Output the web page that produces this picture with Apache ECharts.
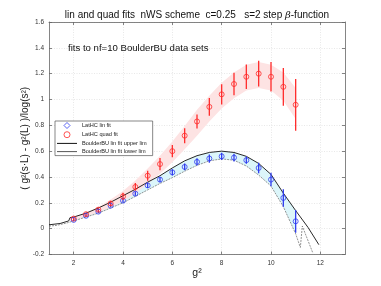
<!DOCTYPE html>
<html><head><meta charset="utf-8">
<script src="https://cdn.jsdelivr.net/npm/echarts@6/dist/echarts.min.js"></script>
<style>html,body{margin:0;padding:0;background:#fff}#c{width:381px;height:286px}</style>
</head><body><div id="c"></div>
<script>
// ---- data ----
const g2 = [2.0,2.5,3.0,3.5,4.0,4.5,5.0,5.5,6.0,6.5,7.0,7.5,8.0,8.5,9.0,9.5,10.0,10.5,11.0];
const linVals = [0.068,0.100,0.132,0.178,0.217,0.271,0.335,0.380,0.436,0.478,0.517,0.543,0.560,0.550,0.530,0.470,0.380,0.238,0.057];
const linErrs = [0.008,0.008,0.010,0.012,0.014,0.016,0.020,0.020,0.024,0.026,0.028,0.032,0.028,0.030,0.028,0.040,0.052,0.068,0.088];
const quadVals = [0.078,0.112,0.147,0.195,0.250,0.323,0.410,0.500,0.600,0.720,0.830,0.943,1.040,1.120,1.176,1.200,1.176,1.098,0.959];
const quadErrs = [0.010,0.012,0.015,0.020,0.028,0.030,0.039,0.048,0.048,0.058,0.054,0.068,0.078,0.087,0.095,0.100,0.114,0.146,0.200];
const quadBandX  = [2.0,2.5,3.0,3.5,4.0,4.5,5.0,5.5,6.0,6.5,7.0,7.5,8.0,8.5,9.0,9.5,10.0,10.5,11.0];
const quadBandLo = [0.068,0.095,0.128,0.165,0.212,0.272,0.345,0.425,0.515,0.615,0.720,0.830,0.930,1.010,1.070,1.090,1.070,0.990,0.850];
const quadBandHi = [0.088,0.125,0.168,0.225,0.292,0.372,0.465,0.565,0.675,0.795,0.920,1.030,1.130,1.210,1.270,1.290,1.270,1.210,1.090];
const upperX = [1.0,1.45,1.5,1.8,1.85,2.0,2.5,3.0,3.5,4.0,4.5,5.0,5.5,6.0,6.5,7.0,7.5,8.0,8.5,9.0,9.5,10.0,10.5,11.0,11.5,11.94];
const upperY = [0.030,0.040,0.052,0.060,0.085,0.090,0.120,0.160,0.205,0.255,0.305,0.360,0.410,0.470,0.525,0.565,0.590,0.600,0.590,0.560,0.505,0.420,0.275,0.140,0.010,-0.124];
const lowerX = [1.0,1.3,1.35,1.7,1.75,2.0,2.5,3.0,3.5,4.0,4.5,5.0,5.5,6.0,6.5,7.0,7.5,8.0,8.5,9.0,9.5,10.0,10.5,11.0,11.19,11.27,11.7];
const lowerY = [0.020,0.025,0.033,0.043,0.050,0.060,0.090,0.120,0.160,0.200,0.250,0.300,0.350,0.395,0.445,0.490,0.525,0.540,0.530,0.485,0.415,0.330,0.170,-0.040,-0.145,0.020,-0.190];
const linBandX  = [2.0,2.5,3.0,3.5,4.0,4.5,5.0,5.5,6.0,6.5,7.0,7.5,8.0,8.5,9.0,9.5,10.0,10.5,11.0];
const linBandLo = [0.060,0.090,0.120,0.160,0.200,0.250,0.300,0.350,0.395,0.445,0.490,0.525,0.540,0.530,0.485,0.415,0.330,0.170,-0.040];
const linBandHi = [0.090,0.120,0.160,0.205,0.255,0.305,0.360,0.410,0.470,0.525,0.565,0.590,0.600,0.590,0.560,0.505,0.420,0.275,0.140];
const xTicks = [2,4,6,8,10,12];
const yTicks = [-0.2,0,0.2,0.4,0.6,0.8,1,1.2,1.4,1.6];

const FONT = "'Liberation Sans', Arial, Helvetica, sans-serif";
const BLUE = '#2f3cf0', RED = '#ff2b2b';
const chart = echarts.init(document.getElementById('c'), null, {renderer:'canvas'});

function bandSeries(xs, lo, hi, color){
  return {type:'custom', xAxisIndex:0, yAxisIndex:0, silent:true, z:1,
    data:[[xs[0], lo[0]]], encode:{x:0,y:1},
    renderItem:function(params, api){
      const pts=[];
      for(let i=0;i<xs.length;i++) pts.push(api.coord([xs[i],hi[i]]));
      for(let i=xs.length-1;i>=0;i--) pts.push(api.coord([xs[i],lo[i]]));
      return {type:'polygon', shape:{points:pts}, style:{fill:color, stroke:null}};
    }};
}
function errSeries(vals, errs, color){
  return {type:'custom', xAxisIndex:0, yAxisIndex:0, silent:true, z:4,
    data:g2.map((x,i)=>[x, vals[i], errs[i]]), encode:{x:0,y:1},
    renderItem:function(params, api){
      const x=api.value(0), y=api.value(1), e=api.value(2);
      const a=api.coord([x,y-e]), b=api.coord([x,y+e]);
      return {type:'line', shape:{x1:a[0],y1:a[1],x2:b[0],y2:b[1]}, style:{stroke:color, lineWidth:1.3}};
    }};
}
const gridLine = {show:true, lineStyle:{color:'#d8d8d8', type:[1,1.5], width:0.6}};
function axisParts(ticks){
  return {
    axisLine:{show:true, onZero:false, lineStyle:{color:'#666', width:0.8}},
    axisTick:{show:true, inside:true, length:3, customValues:ticks, lineStyle:{color:'#666', width:0.8}},
  };
}
const LINE_ICON = 'path://M0,0 L20,0 L20,1 L0,1 Z';
const DIAMOND_ICON = 'path://M3,0 L6,3 L3,6 L0,3 Z';
const CIRCLE_ICON = 'path://M0,3 A3,3 0 1,1 6,3 A3,3 0 1,1 0,3 Z';
const option = {
  animation:false,
  textStyle:{fontFamily:FONT},
  grid:{left:49, right:36, top:22, bottom:31.5, containLabel:false},
  xAxis:[
    Object.assign({type:'value', min:1, max:13, interval:0.5, position:'bottom',
      name:'g²', nameLocation:'middle', nameGap:13, nameMoveOverlap:false,
      nameTextStyle:{fontSize:10.5, color:'#222', fontFamily:FONT},
      axisLabel:{fontSize:6.5, color:'#333', margin:5, fontFamily:FONT, customValues:xTicks},
      splitLine:gridLine
    }, axisParts(xTicks)),
    Object.assign({type:'value', min:1, max:13, interval:0.5, position:'top',
      axisLabel:{show:false}, splitLine:{show:false}}, axisParts(xTicks))
  ],
  yAxis:[
    Object.assign({type:'value', min:-0.2, max:1.6, interval:0.1, position:'left',
      name:'( g²(s·L) - g²(L) )/log(s²)', nameLocation:'middle', nameGap:19, nameRotate:90, nameMoveOverlap:false,
      nameTextStyle:{fontSize:10, color:'#222', fontFamily:FONT},
      axisLabel:{fontSize:6.5, color:'#333', margin:5, fontFamily:FONT, customValues:yTicks},
      splitLine:gridLine
    }, axisParts(yTicks)),
    Object.assign({type:'value', min:-0.2, max:1.6, interval:0.1, position:'right',
      axisLabel:{show:false}, splitLine:{show:false}}, axisParts(yTicks))
  ],
  legend:{
    orient:'vertical', left:55, top:121, itemWidth:20, itemHeight:6, itemGap:2.2,
    symbolKeepAspect:true,
    padding:[1,6,1,2], borderColor:'#555', borderWidth:0.7, backgroundColor:'#fff',
    textStyle:{fontSize:5.6, color:'#222', fontFamily:FONT},
    data:[
      {name:'LatHC lin fit', icon:DIAMOND_ICON, itemStyle:{color:'rgba(0,0,0,0)', borderColor:BLUE, borderWidth:1}},
      {name:'LatHC quad fit', icon:CIRCLE_ICON, itemStyle:{color:'rgba(0,0,0,0)', borderColor:RED, borderWidth:1}},
      {name:'BoulderBU lin fit upper lim', icon:LINE_ICON, itemStyle:{color:'#111', borderWidth:0}},
      {name:'BoulderBU lin fit lower lim', icon:LINE_ICON, itemStyle:{color:'#555', borderWidth:0}}
    ]
  },
  graphic:[
    {type:'text', x:197, y:15, z:10, style:{
      text:'{a|lin and quad fits  nWS scheme  c=0.25   s=2 step }{b|β}{a|-function}',
      align:'center', verticalAlign:'middle',
      rich:{a:{fontSize:10, fontFamily:FONT, fill:'#111'}, b:{fontSize:10, fontStyle:'italic', fontFamily:"'DejaVu Serif', serif", fill:'#111'}}
    }},
    {type:'text', x:68, y:48, z:10, style:{text:'fits to nf=10 BoulderBU data sets', fontSize:9.6, fontFamily:FONT, fill:'#111', align:'left', verticalAlign:'middle'}}
  ],
  series:[
    bandSeries(linBandX, linBandLo, linBandHi, '#dcf6fa'),
    bandSeries(quadBandX, quadBandLo, quadBandHi, '#fde3e3'),
    {name:'BoulderBU lin fit upper lim', type:'line', xAxisIndex:0, yAxisIndex:0, z:3,
      data:upperX.map((x,i)=>[x,upperY[i]]), symbol:'none', showSymbol:false, smooth:false,
      lineStyle:{color:'#111', width:0.9}, itemStyle:{color:'#111'}},
    {name:'BoulderBU lin fit lower lim', type:'line', xAxisIndex:0, yAxisIndex:0, z:3,
      data:lowerX.map((x,i)=>[x,lowerY[i]]), symbol:'none', showSymbol:false, smooth:false,
      lineStyle:{color:'#666', width:0.7, type:[2,1]}, itemStyle:{color:'#555'}},
    errSeries(linVals, linErrs, BLUE),
    errSeries(quadVals, quadErrs, RED),
    {name:'LatHC lin fit', type:'scatter', xAxisIndex:0, yAxisIndex:0, z:5,
      data:g2.map((x,i)=>[x,linVals[i]]), symbol:'circle', symbolSize:5,
      itemStyle:{color:'rgba(0,0,0,0)', borderColor:BLUE, borderWidth:1}},
    {name:'LatHC quad fit', type:'scatter', xAxisIndex:0, yAxisIndex:0, z:5,
      data:g2.map((x,i)=>[x,quadVals[i]]), symbol:'circle', symbolSize:5,
      itemStyle:{color:'rgba(0,0,0,0)', borderColor:RED, borderWidth:1}}
  ]
};
chart.setOption(option);
</script></body></html>
